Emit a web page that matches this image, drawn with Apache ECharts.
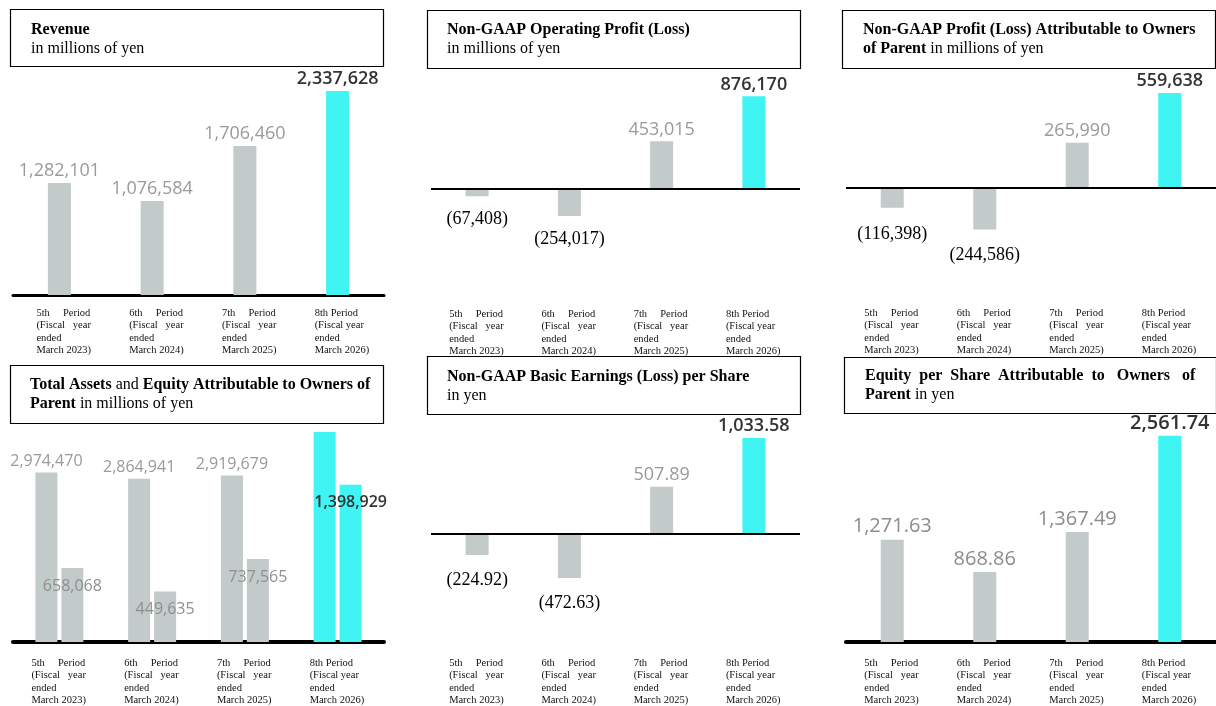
<!DOCTYPE html>
<html><head><meta charset="utf-8">
<script src="https://cdn.jsdelivr.net/npm/echarts@6/dist/echarts.min.js"></script>
<style>html,body{margin:0;padding:0;background:#fff}#c{width:1216px;height:706px}</style>
</head><body><div id="c"></div>
<script>
// ---------- data ----------
const categories = [
  '5th     Period\n(Fiscal   year\nended\nMarch 2023)',
  '6th     Period\n(Fiscal   year\nended\nMarch 2024)',
  '7th     Period\n(Fiscal   year\nended\nMarch 2025)',
  '8th Period\n(Fiscal year\nended\nMarch 2026)'
];
const revenue      = [1282101, 1076584, 1706460, 2337628];
const opProfit     = [-67408, -254017, 453015, 876170];
const ownersProfit = [-116398, -244586, 265990, 559638];
const totalAssets  = [2974470, 2864941, 2919679, 3684000];
const equity       = [658068, 449635, 737565, 1398929];
const eps          = [-224.92, -472.63, 507.89, 1033.58];
const bps          = [1271.63, 868.86, 1367.49, 2561.74];

// ---------- styling ----------
const GRAY = '#c3caca', CYAN = '#3ff4f2';
const SANS = '"Open Sans", "Noto Sans", sans-serif';
const SERIF = '"Liberation Serif", "Times New Roman", serif';

function fmt(dec) {
  return function (v) {
    const s = Math.abs(v).toLocaleString('en-US', {minimumFractionDigits: dec, maximumFractionDigits: dec});
    return v < 0 ? '(' + s + ')' : s;
  };
}

function items(vals, o) {
  return vals.map(function (v, i) {
    const hi = i === 3;
    let label;
    if (v < 0) {
      label = {show: true, position: 'bottom', distance: o.negDist, fontFamily: SERIF, fontSize: 18, color: '#000'};
    } else {
      label = {show: o.hidden !== i, position: o.pos || 'top', distance: o.dist, fontFamily: SANS,
        fontSize: o.size, color: hi ? '#333' : o.gray, fontWeight: hi ? 600 : 400};
    }
    return {value: v, itemStyle: {color: hi ? CYAN : GRAY}, label: label};
  });
}

const zeroLine = {silent: true, symbol: ['none', 'none'], label: {show: false},
  lineStyle: {color: '#000', width: 2, type: 'solid'}, data: [{yAxis: 0}]};

function grid(l, t, w, h) {
  return {left: l, top: t, width: w, height: h, containLabel: false, outerBoundsMode: 'none'};
}
function xAx(gi, lineW, margin, shift) {
  return {
    type: 'category', gridIndex: gi, data: categories,
    axisTick: {show: false},
    axisLine: lineW ? {show: true, onZero: false, lineStyle: {color: '#000', width: lineW}} : {show: false},
    axisLabel: {
      interval: 0, margin: margin, color: '#111',
      formatter: function (v) { return v.split('\n').map(function (l) { return '{a|' + l + '}'; }).join('\n'); },
      rich: {a: {fontFamily: SERIF, fontSize: 10.5, lineHeight: 12.3, width: 56, align: 'left', color: '#111',
        padding: [0, 0, 0, shift || 0]}}
    }
  };
}
function yAx(gi, min, max) {
  return {type: 'value', gridIndex: gi, min: min, max: max, show: false, splitLine: {show: false}};
}

const rich = {
  b: {fontFamily: SERIF, fontWeight: 'bold', fontSize: 16, lineHeight: 18.5, fill: '#000'},
  r: {fontFamily: SERIF, fontSize: 16, lineHeight: 18.5, fill: '#000'}
};
function titleBox(x, y, w, h, tx, ty, text) {
  return [
    {type: 'rect', z: 100, shape: {x: x + 0.5, y: y + 0.5, width: w, height: h},
      style: {fill: '#fff', stroke: '#000', lineWidth: 1.2}},
    {type: 'text', z: 101, x: tx, y: ty, style: {text: text, rich: rich, verticalAlign: 'top', align: 'left'}}
  ];
}

const option = {
  animation: false,
  backgroundColor: '#fff',
  grid: [
    grid(13, 70, 371, 225),
    grid(431, 70, 369, 225),
    grid(846, 70, 370, 225),
    grid(13, 425, 371, 217),
    grid(431, 425, 369, 217),
    grid(846, 425, 370, 217)
  ],
  xAxis: [xAx(0, 3, 12, 10), xAx(1, 0, 13), xAx(2, 0, 12), xAx(3, 4, 15), xAx(4, 0, 15), xAx(5, 4, 15)],
  yAxis: [
    yAx(0, 0, 2577000),
    yAx(1, -1000000, 1125000),
    yAx(2, -630000, 695000),
    yAx(3, 0, 3807000),
    yAx(3, 0, 1929000),
    yAx(4, -1160, 1173),
    yAx(5, 0, 2696)
  ],
  series: [
    {type: 'bar', xAxisIndex: 0, yAxisIndex: 0, barWidth: 23,
      data: items(revenue, {size: 18, dist: 3, gray: '#9a9a9a'}), label: {formatter: function (p) { return fmt(0)(p.value); }}},
    {type: 'bar', xAxisIndex: 1, yAxisIndex: 1, barWidth: 23, markLine: zeroLine,
      data: items(opProfit, {size: 18, dist: 2, gray: '#9a9a9a', negDist: 14}), label: {formatter: function (p) { return fmt(0)(p.value); }}},
    {type: 'bar', xAxisIndex: 2, yAxisIndex: 2, barWidth: 23, markLine: zeroLine,
      data: items(ownersProfit, {size: 18, dist: 3, gray: '#9a9a9a', negDist: 17}), label: {formatter: function (p) { return fmt(0)(p.value); }}},
    {type: 'bar', xAxisIndex: 3, yAxisIndex: 3, barWidth: 22, barGap: '18%',
      data: items(totalAssets, {size: 16, dist: 3, gray: '#9a9a9a', hidden: 3}), label: {formatter: function (p) { return fmt(0)(p.value); }}},
    {type: 'bar', xAxisIndex: 3, yAxisIndex: 4, barWidth: 22, barGap: '18%',
      data: items(equity, {size: 16, dist: 10, gray: '#8f8f8f', pos: 'insideTop'}), label: {formatter: function (p) { return fmt(0)(p.value); }}},
    {type: 'bar', xAxisIndex: 4, yAxisIndex: 5, barWidth: 23, markLine: zeroLine,
      data: items(eps, {size: 18, dist: 3, gray: '#9a9a9a', negDist: 16}), label: {formatter: function (p) { return fmt(2)(p.value); }}},
    {type: 'bar', xAxisIndex: 5, yAxisIndex: 6, barWidth: 23,
      data: items(bps, {size: 20, dist: 3, gray: '#8c8c8c'}), label: {formatter: function (p) { return fmt(2)(p.value); }}}
  ],
  graphic: [].concat(
    titleBox(10, 9, 373, 57, 31, 21, '{b|Revenue}\n{r|in millions of yen}'),
    titleBox(427, 10, 373, 58, 447, 21, '{b|Non-GAAP Operating Profit (Loss)}\n{r|in millions of yen}'),
    titleBox(842, 10, 373, 58, 863, 21, '{b|Non-GAAP Profit (Loss) Attributable to Owners}\n{b|of Parent}{r| in millions of yen}'),
    titleBox(10, 365, 373, 58, 30, 376, '{b|Total Assets}{r| and }{b|Equity Attributable to Owners of}\n{b|Parent}{r| in millions of yen}'),
    titleBox(427, 356, 373, 58, 447, 368, '{b|Non-GAAP Basic Earnings (Loss) per Share}\n{r|in yen}'),
    titleBox(844, 357, 372, 56, 865, 367, '{b|Equity  per  Share  Attributable  to   Owners   of}\n{b|Parent}{r| in yen}')
  )
};

const chart = echarts.init(document.getElementById('c'), null, {renderer: 'canvas'});
chart.setOption(option);
</script>
</body></html>
